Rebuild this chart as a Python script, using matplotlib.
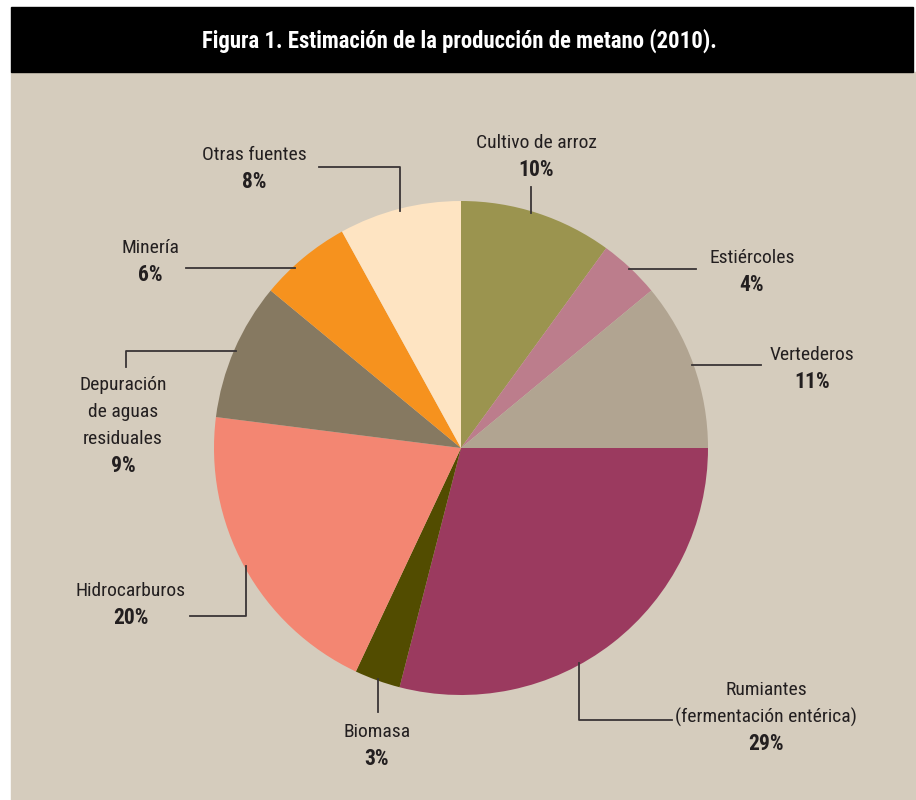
import numpy as np
import matplotlib
matplotlib.use('Agg')
import matplotlib.pyplot as plt
from matplotlib.patches import Rectangle

# データ
labels = ['Cultivo de arroz', 'Estiércoles', 'Vertederos',
          'Rumiantes\n(fermentación entérica)', 'Biomasa', 'Hidrocarburos',
          'Depuración\nde aguas\nresiduales', 'Minería', 'Otras fuentes']
values = [10, 4, 11, 29, 3, 20, 9, 6, 8]
colors = ['#9b944f', '#bc7d8c', '#b1a491', '#9b3a5f', '#524c00',
          '#f38672', '#867961', '#f6921e', '#fee4c2']
title = 'Figura 1. Estimación de la producción de metano (2010).'

# レイアウト (ピクセル座標)
text_pos = [(536, 143), (752, 258), (812, 355), (766, 690), (377, 732),
            (131, 591), (123, 385), (150, 248), (254, 155)]
angle_off = [-1.5, 0, 0, 9, 0, 0, 0, -3, 0]
leaders = [[('v', 187)], [('h', 696)], [('h', 761)],
           [('v', 720), ('h', 672)], [('v', 712)],
           [('v', 616), ('h', 190)], [('h', 126), ('v', 367)],
           [('h', 186)], [('v', 167), ('h', 319)]]

plt.rcParams['font.family'] = ['Roboto Condensed', 'DejaVu Sans']

W, H = 916, 800
cx, cy, R = 461, 448, 247
bg = '#d5ccbd'
ink = '#231f20'

fig = plt.figure(figsize=(W / 100, H / 100), dpi=100, facecolor='white')
ax = fig.add_axes([0, 0, 1, 1])
ax.add_patch(Rectangle((11, 72), W - 11, H - 72, color=bg, zorder=0))
ax.add_patch(Rectangle((11, 7), 902, 65, color='black', zorder=0))
ax.text(459, 41, title, color='white', fontsize=16.4, fontweight='bold',
        ha='center', va='center')

# 円グラフ (y軸反転のため counterclock=True で見た目は時計回り)
wedges, _ = ax.pie(values, colors=colors, startangle=-90, counterclock=True,
                   center=(cx, cy), radius=R, frame=True,
                   wedgeprops=dict(linewidth=0))

for w, lab, v, pos, off, path in zip(wedges, labels, values, text_pos,
                                     angle_off, leaders):
    a = np.deg2rad((w.theta1 + w.theta2) / 2 + off)
    px, py = cx + (R - 2) * np.cos(a), cy + (R - 2) * np.sin(a)
    xs, ys = [px], [py]
    for kind, c in path:
        if kind == 'v':
            xs.append(xs[-1]); ys.append(c)
        else:
            xs.append(c); ys.append(ys[-1])
    ax.plot(xs, ys, color='#3a3536', lw=1.3, zorder=3)
    lines = lab.split('\n')
    x, y = pos
    for i, ln in enumerate(lines):
        ax.text(x, y + i * 27, ln, color=ink, fontsize=14,
                ha='center', va='center')
    ax.text(x, y + len(lines) * 27, f'{v}%', color=ink, fontsize=15.5,
            fontweight='bold', ha='center', va='center')

ax.set_xlim(0, W)
ax.set_ylim(H, 0)
ax.set_aspect('auto')
ax.axis('off')

fig.savefig('out.png', dpi=100, facecolor='white')
